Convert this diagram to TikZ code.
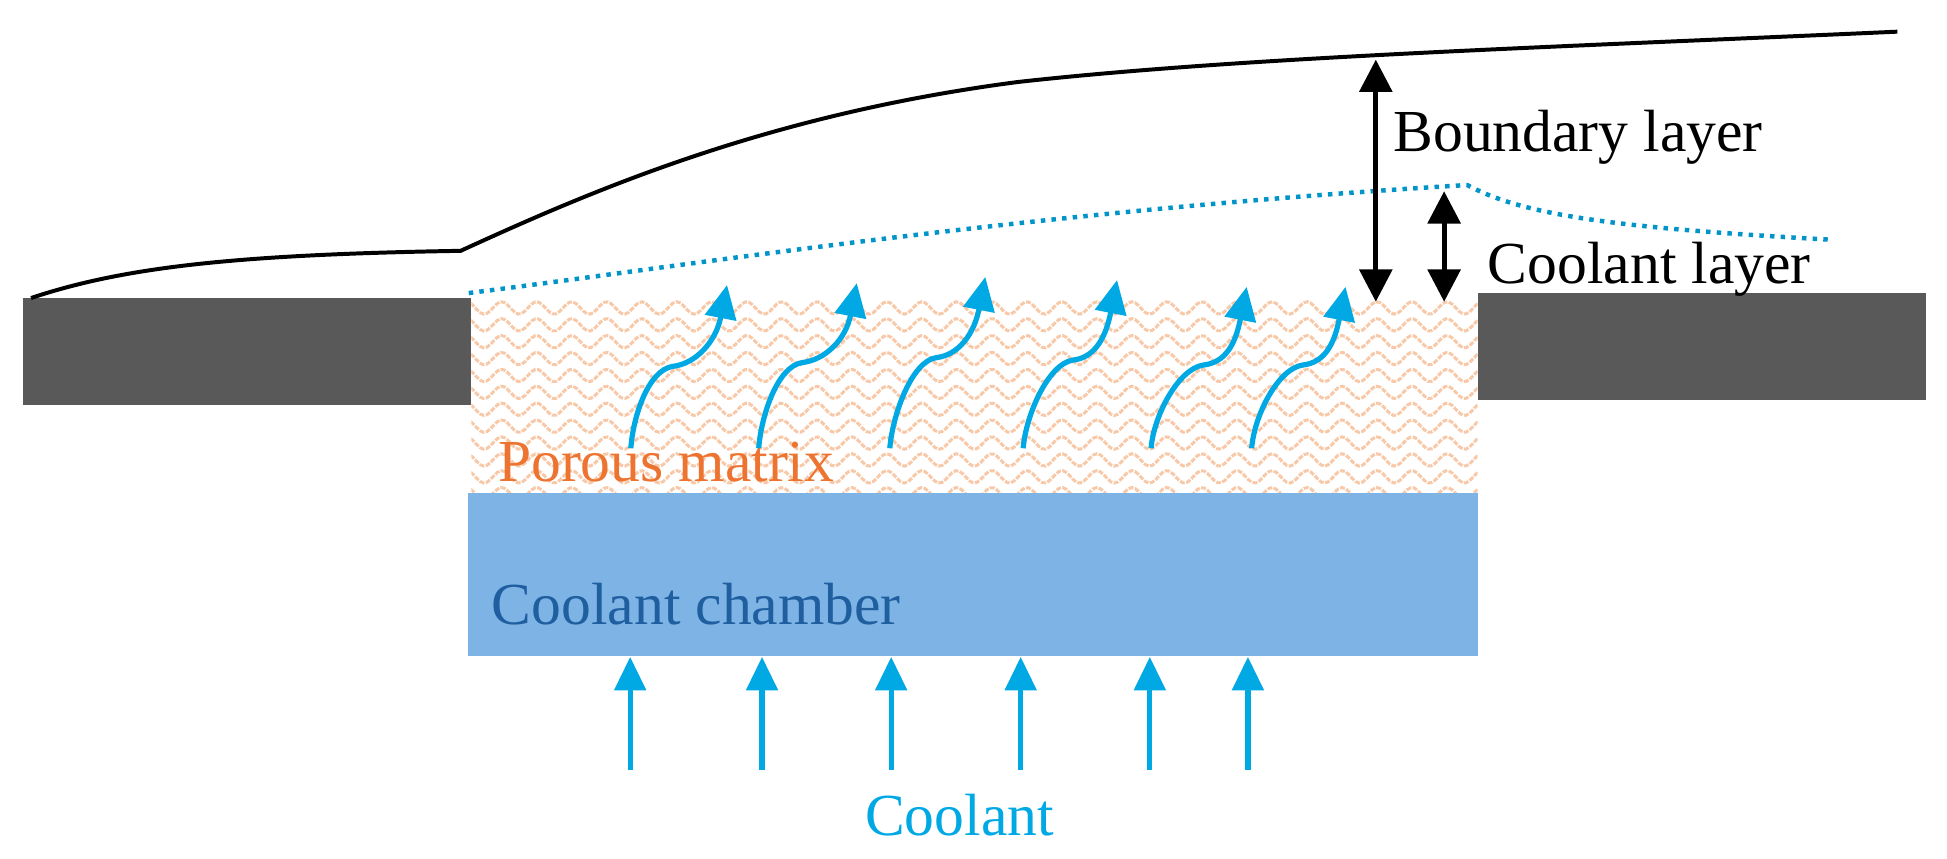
\documentclass[tikz,border=0pt]{standalone}
\usepackage{fontspec}
\setmainfont{Liberation Serif}
\usetikzlibrary{arrows.meta}
\definecolor{barc}{HTML}{595959}
\definecolor{chamberc}{HTML}{7EB3E6}
\definecolor{flowc}{HTML}{00A8E4}
\definecolor{wavec}{HTML}{F8C9A8}
\definecolor{porousc}{HTML}{ED7430}
\definecolor{chambertext}{HTML}{1F5F9F}
\tikzset{
  x=1pt,y=-1pt,
  barbox/.style={fill=barc,draw=none},
  flow/.style={draw=flowc,line width=4.2pt,-{Triangle[length=27pt,width=25pt]}},
  gauge/.style={draw=black,line width=4pt,{Triangle[length=26pt,width=26pt]}-{Triangle[length=26pt,width=26pt]}},
  lab/.style={font=\fontsize{48}{54}\selectfont,inner sep=0pt,anchor=base west},
  edgeline/.style={draw=black,line width=3.2pt,line join=miter},
  covered/.style={draw=flowc!88!black,line width=3.6pt,dash pattern=on 3.6pt off 5pt},
}
\begin{document}
\begin{tikzpicture}
\useasboundingbox (0,0) rectangle (1568,691);
% wall segments
\fill[barbox] (18.5,240) rectangle (379.6,326);
\fill[barbox] (1190,236) rectangle (1551,322);
% porous matrix
\begin{scope}
\clip (379.6,239) rectangle (1190,398);
\foreach \r in {0,...,11}{
  \draw[wavec,line width=2.4pt,dash pattern=on 4pt off 1.2pt,domain=370:1200,samples=300,variable=\t]
    plot ({\t},{248+\r*13.6-5*cos((\t-404)/28.2*360)});
}
\end{scope}
% chamber
\fill[chamberc] (377,397) rectangle (1190,528);
% boundary lines
\draw[edgeline] (25,240) .. controls (100,215) and (190,205) .. (371,202)
  .. controls (480,152) and (620,92) .. (820,66)
  .. controls (1000,46) and (1250,38) .. (1528,25.5);
\draw[covered] (377.5,236) .. controls (560,213) and (830,170) .. (1181.5,149)
  .. controls (1225,172) and (1290,183) .. (1474,193);
% labels
\node[lab] (bl) at (1122,122) {Boundary layer};
\node[lab] (cl) at (1198,228) {Coolant layer};
\node[lab,text=porousc] (pm) at (401,388) {Porous matrix};
\node[lab,text=chambertext] (cc) at (396,503) {Coolant chamber};
\node[lab,text=flowc] (co) at (696.6,673) {Coolant};
% gauges
\coordinate (g1a) at (1108,48); \coordinate (g1b) at (1108,243);
\coordinate (g2a) at (1163,154); \coordinate (g2b) at (1163,243);
\draw[gauge] (g1a) -- (g1b);
\draw[gauge] (g2a) -- (g2b);
% straight flow arrows
\foreach \n/\xx in {1/507.5,2/613.7,3/717.7,4/822,5/926,6/1005}{
  \coordinate (s\n) at (\xx,620);
  \coordinate (e\n) at (\xx,529);
  \draw[flow] (s\n) -- (e\n);
}
% curved flow arrows
\foreach \n/\xa/\xk/\yk/\xb/\yt in {1/508/542/295/585.5/229.5,2/611/646/292/690/228,3/716.6/754/288/793.5/223,4/824/864/290/899.6/225.5,5/927/969/294/1004/231,6/1008/1049/294/1083.6/231}{
  \coordinate (p\n) at (\xa,361);
  \coordinate (k\n) at (\xk,\yk);
  \coordinate (q\n) at (\xb,\yt);
  \draw[flow] (p\n) .. controls ({\xa+2},335) and ({\xk-20},{\yk+3}) .. (k\n)
     .. controls ({\xk+18},{\yk-2}) and ({\xb-9},{\yt+46}) .. (q\n);
}
\end{tikzpicture}
\end{document}
